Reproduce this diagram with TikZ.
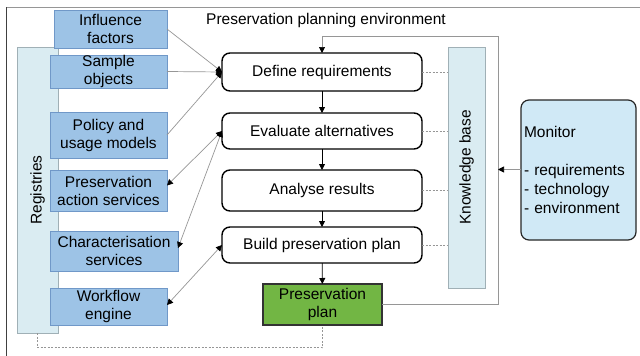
\documentclass[tikz,border=0pt]{standalone}
\usepackage{fontspec}
\setmainfont{Liberation Sans}
\usetikzlibrary{arrows.meta}
\definecolor{boxblue}{RGB}{157,195,230}
\definecolor{boxblueedge}{RGB}{112,152,200}
\definecolor{paleblue}{RGB}{218,236,242}
\definecolor{paleedge}{RGB}{160,176,182}
\definecolor{monblue}{RGB}{208,233,246}
\definecolor{plangreen}{RGB}{114,182,68}
\definecolor{linegray}{RGB}{150,150,150}
\begin{document}
\begin{tikzpicture}[x=1pt,y=-1pt,
  font=\fontsize{15.5}{18}\selectfont,
  every node/.style={inner sep=0pt, outer sep=0pt},
  bluebox/.style={draw=boxblueedge, fill=boxblue, line width=0.8pt, align=center},
  palebox/.style={draw=paleedge, fill=paleblue, line width=0.8pt},
  stepbox/.style={draw=black, fill=white, line width=1.4pt, rounded corners=8pt,
    minimum width=200pt, align=center},
  tip/.style={-{Triangle[length=6pt,width=6pt,color=black]}},
  dtip/.style={{Triangle[length=6pt,width=6pt,color=black]}-{Triangle[length=6pt,width=6pt,color=black]}},
  feed/.style={draw=linegray, line width=0.7pt},
  kbdash/.style={draw=linegray, line width=0.6pt, dash pattern=on 2pt off 1.5pt}
]
\useasboundingbox (0,0) rectangle (640,356);

% environment frame
\draw[linegray, line width=0.8pt] (6,7) -- (640,7);
\draw[black!75, line width=0.8pt] (6,7) -- (6,356);
\node (title) at (326,20) {Preservation planning environment};

% registries column and the services attached to it
\node[palebox, minimum width=41pt, minimum height=286pt,
  label={[rotate=90]center:Registries}] (reg) at (37.5,190) {};
\node[bluebox, minimum width=113pt, minimum height=38pt] (inf) at (110.5,29) {Influence\\factors};
\node[bluebox, minimum width=117pt, minimum height=33pt] (samp) at (108.5,71.5) {Sample\\objects};
\node[bluebox, minimum width=117pt, minimum height=46pt] (pol) at (108.5,135) {Policy and\\usage models};
\node[bluebox, minimum width=117pt, minimum height=41pt] (pas) at (108.5,190.5) {Preservation\\action services};
\node[bluebox, minimum width=128pt, minimum height=40pt] (chr) at (114,251) {Characterisation\\services};
\node[bluebox, minimum width=117pt, minimum height=37pt] (wf) at (108.5,306.5) {Workflow\\engine};

% planning workflow
\node[stepbox, minimum height=38pt] (def) at (322,72) {Define requirements};
\node[stepbox, minimum height=36pt] (eval) at (322,131) {Evaluate alternatives};
\node[stepbox, minimum height=41pt] (ana) at (322,190.5) {Analyse results};
\node[stepbox, minimum height=36pt] (build) at (322,245) {Build preservation plan};
\node[draw=black!80, fill=plangreen, line width=1.2pt, minimum width=119pt,
  minimum height=41pt, align=center] (plan) at (322.5,304.5) {Preservation\\plan};

% knowledge base
\node[palebox, minimum width=37pt, minimum height=241pt,
  label={[rotate=90]center:Knowledge base}] (kb) at (466.5,167.5) {};

% monitoring
\node[draw=black!85, fill=monblue, line width=1.2pt, rounded corners=8pt,
  minimum height=140pt, text width=109pt, inner xsep=3pt, align=left,
  font=\fontsize{15.5}{19}\selectfont] (mon) at (578.5,170)
  {Monitor\\[19pt]- requirements\\- technology\\- environment};

% workflow arrows
\draw[tip, line width=0.8pt] (def) -- (eval);
\draw[tip, line width=0.8pt] (eval) -- (ana);
\draw[tip, line width=0.8pt] (ana) -- (build);
\draw[tip, line width=0.8pt] (build) -- (plan);

% inputs and services
\draw[feed, tip] (inf.east) -- (def.west);
\draw[feed, tip] (samp.east) -- (def.west);
\draw[feed, tip] (pol.east) -- (def.west);
\draw[feed, dtip] ([yshift=5pt]pas.east) -- (eval.west);
\draw[feed, dtip] ([yshift=3pt]chr.east) -- (eval.west);
\draw[feed, dtip] ([yshift=1.5pt]wf.east) -- (build.west);

% plan fed back to the start
\coordinate (fbtop) at (498,36);
\draw[feed, tip] (plan.east) -| (fbtop) -| (def.north);
\coordinate (fbmon) at (498,169.5);
\draw[feed, tip] (mon.west |- fbmon) -- (fbmon);

% links to the knowledge base
\draw[kbdash] (def.east) -- (kb.west |- def.east);
\draw[kbdash] (eval.east) -- (kb.west |- eval.east);
\draw[kbdash] (ana.east) -- (kb.west |- ana.east);
\draw[kbdash] (build.east) -- (kb.west |- build.east);

% registries linked to the plan
\coordinate (regbot) at (37.5,347.5);
\draw[kbdash] (reg.south) -- (regbot) -| (plan.south);
\end{tikzpicture}
\end{document}
